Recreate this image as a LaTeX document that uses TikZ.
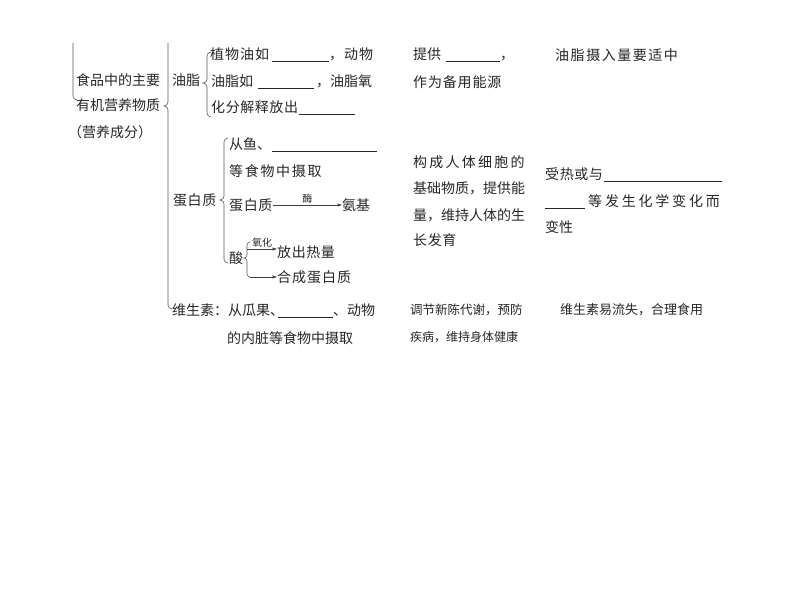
\documentclass[tikz,border=0pt]{standalone}
\usepackage{fontspec}
\setmainfont{Noto Sans CJK SC}
\usetikzlibrary{arrows.meta}

\newcommand{\blank}[1]{\underline{\hspace{#1pt}}}
\newcommand{\sbrace}[4]{%
  \draw[brc] (#1+4,#2) to[out=180,in=90] (#1,#2+4) -- (#1,#3-4)
    to[out=-90,in=0] (#1-4,#3) to[out=0,in=90] (#1,#3+4) -- (#1,#4-4)
    to[out=-90,in=180] (#1+4,#4);}

\tikzset{
  txt/.style={anchor=west, inner sep=0pt, text=black!85, font=\fontsize{#1}{#1}\selectfont},
  txt/.default=14,
  sp/.style={font=\fontsize{14}{14}\selectfont\addfontfeatures{LetterSpace=#1}},
  lbl/.style={inner sep=1.5pt, text=black!85, font=\fontsize{10}{10}\selectfont},
  brc/.style={draw=black!65, line width=0.6pt},
  arr/.style={draw=black!75, line width=0.5pt, -{Latex[length=4.5pt,width=3.5pt]}},
}

\begin{document}
\begin{tikzpicture}[x=1pt, y=-1pt]
  \useasboundingbox (0,0) rectangle (794,596);

  % Left column
  \node[txt] (food1) at (76,80) {食品中的主要};
  \node[txt] (food2) at (76,105) {有机营养物质};
  \node[txt] (food3) at (68,132) {（营养成分）};
  \draw[brc] (73,43) -- (73,96) to[out=-90,in=180] (77,100);
  \draw[brc] (168,43) -- (168,102) to[out=-90,in=0] (164,106)
    to[out=0,in=90] (168,110) -- (168,305) to[out=-90,in=180] (172,309);

  % Fats
  \node[txt] (youzhi) at (172,80) {油脂};
  \sbrace{207}{52}{83}{117}
  \node[txt, sp=7] (oil1) at (210,55) {植物油如\hspace{3pt}\blank{57}，动物};
  \node[txt] (oil2) at (211,82) {油脂如\hspace{5pt}\blank{56}\hspace{2pt}，油脂氧};
  \node[txt, sp=4] (oil3) at (211,108) {化分解释放出\hspace{1pt}\blank{56}};

  % Proteins
  \node[txt, sp=4] (danbai) at (173,200) {蛋白质};
  \sbrace{224}{138}{200}{263}
  \node[txt] (pro1) at (229,145) {从鱼、\hspace{1pt}\blank{105}};
  \node[txt, sp=12] (pro2) at (229,171) {等食物中摄取};
  \node[txt, sp=4] (pro3) at (229,205) {蛋白质};
  \node[txt] (anji) at (342,205) {氨基};
  \draw[arr] (pro3.east) -- node[lbl, above] {酶} (anji.west);

  \node[txt] (suan) at (229,258) {酸};
  \draw[brc] (250,242) to[out=180,in=90] (247,245) -- (247,255)
    to[out=-90,in=0] (244,258) to[out=0,in=90] (247,261) -- (247,274)
    to[out=-90,in=180] (250,277) coordinate (a2);
  \coordinate (a1) at (247,249);
  \node[txt, sp=4] (heat) at (277,252) {放出热量};
  \node[txt, sp=7] (synth) at (277,277) {合成蛋白质};
  \draw[arr] (a1) -- node[lbl, above] {氧化} (a1 -| heat.west);
  \draw[arr] (a2) -- (a2 -| synth.west);

  % Vitamins
  \node[txt] (vit1) at (172,311) {维生素：从瓜果、\hspace{-6pt}\blank{55}、动物};
  \node[txt] (vit2) at (227,338) {的内脏等食物中摄取};

  % Functions
  \node[txt] (use1) at (413,55) {提供\hspace{5pt}\blank{54}，};
  \node[txt, sp=6] (use2) at (413,82) {作为备用能源};
  \node[txt, sp=16] (use3) at (413,162) {构成人体细胞的};
  \node[txt] (use4) at (413,188) {基础物质，提供能};
  \node[txt] (use5) at (413,215) {量，维持人体的生};
  \node[txt, sp=4] (use6) at (413,240) {长发育};
  \node[txt=12.5] (use7) at (410,310) {调节新陈代谢，预防};
  \node[txt=12] (use8) at (410,337) {疾病，维持身体健康};

  % Notes
  \node[txt, sp=11] (tip1) at (555,55) {油脂摄入量要适中};
  \node[txt, sp=4] (tip2) at (545,175) {受热或与\hspace{1pt}\blank{118}};
  \node[txt, sp=20] (tip3) at (545,202) {\blank{40}\hspace{3pt}等发生化学变化而};
  \node[txt] (tip4) at (545,227) {变性};
  \node[txt=13] (tip5) at (560,310) {维生素易流失，合理食用};

\end{tikzpicture}
\end{document}
